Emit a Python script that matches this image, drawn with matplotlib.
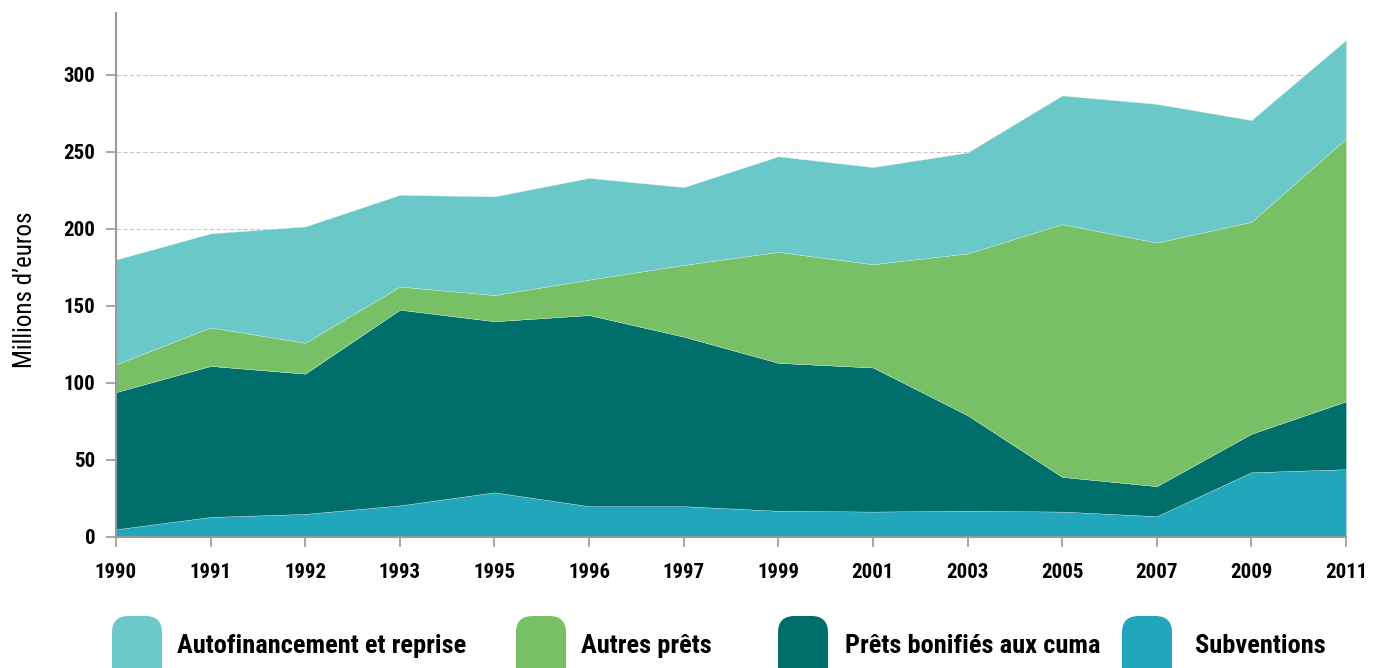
import numpy as np
import matplotlib
matplotlib.use("Agg")
import matplotlib.pyplot as plt
from matplotlib.patches import FancyBboxPatch

years = ["1990", "1991", "1992", "1993", "1995", "1996", "1997",
         "1999", "2001", "2003", "2005", "2007", "2009", "2011"]

subventions = [5, 13, 15, 20.5, 29, 20, 20, 17, 16.5, 17, 16.5, 13.5, 42, 44]
prets_bonifies = [89, 98, 91, 127, 111, 124, 110, 96, 93.5, 62, 22.5, 19.5, 25, 44]
autres_prets = [18, 25, 20, 15, 17, 23, 46.5, 72, 67, 105, 164, 158, 137.5, 170.5]
autofinancement = [68, 61, 75.5, 59.5, 64, 66, 50.5, 62, 63, 65.5, 83.5, 90, 66, 64]

series_labels = ["Autofinancement et reprise", "Autres prêts",
                 "Prêts bonifiés aux cuma", "Subventions"]
series_colors = ["#6bc8c8", "#78c066", "#006e6a", "#22a6bc"]

y_ticks = [0, 50, 100, 150, 200, 250, 300]

font_cond = ["Liberation Sans Narrow", "Roboto Condensed", "DejaVu Sans"]

W, H = 1380, 668
fig = plt.figure(figsize=(W / 100, H / 100), dpi=100)
ax = fig.add_axes([116 / W, (H - 537) / H, 1230 / W, 524 / H])

x = np.arange(len(years))
# stack bottom to top: subventions, bonifiés, autres, autofinancement
ax.stackplot(x, subventions, prets_bonifies, autres_prets, autofinancement,
             colors=series_colors[::-1], edgecolor="#e8f4f0", linewidth=0.2,
             zorder=2)

ax.set_xlim(0, len(years) - 1)
ax.set_ylim(0, 340)
ax.set_xticks(x)
ax.set_xticklabels(years)
ax.set_yticks(y_ticks)

ax.yaxis.grid(True, ls=(0, (4, 2)), color="#c8c8c8", linewidth=0.8, zorder=0)
ax.set_axisbelow(True)

for s in ["top", "right"]:
    ax.spines[s].set_visible(False)
for s in ["left", "bottom"]:
    ax.spines[s].set_color("#9a9a9a")
    ax.spines[s].set_linewidth(1.5)
    ax.spines[s].set_zorder(3)

ax.tick_params(axis="both", colors="#9a9a9a", length=7, width=1.2,
               labelcolor="black")
ax.tick_params(axis="x", pad=12)
ax.tick_params(axis="y", pad=8)
for lab in ax.get_xticklabels() + ax.get_yticklabels():
    lab.set_fontfamily(font_cond)
    lab.set_fontweight("bold")
    lab.set_fontsize(15)

fig.text(25 / W, (H - 290) / H, "Millions d\u2019euros", rotation=90,
         ha="center", va="center", fontsize=18, family=font_cond)

# legend drawn by hand with rounded swatches
patch_x = [112, 516, 778, 1122]
text_x = [177, 581, 845, 1195]
for px, tx, lab, col in zip(patch_x, text_x, series_labels, series_colors):
    p = FancyBboxPatch((px / W, (H - 690) / H), 50 / W, 74 / H,
                       boxstyle="round,pad=0,rounding_size=0.012",
                       transform=fig.transFigure, facecolor=col,
                       edgecolor="none", mutation_aspect=W / H)
    fig.patches.append(p)
    fig.text(tx / W, (H - 646) / H, lab, ha="left", va="center",
             fontsize=19, fontweight="bold", family=font_cond)

fig.savefig("out.png", dpi=100)
